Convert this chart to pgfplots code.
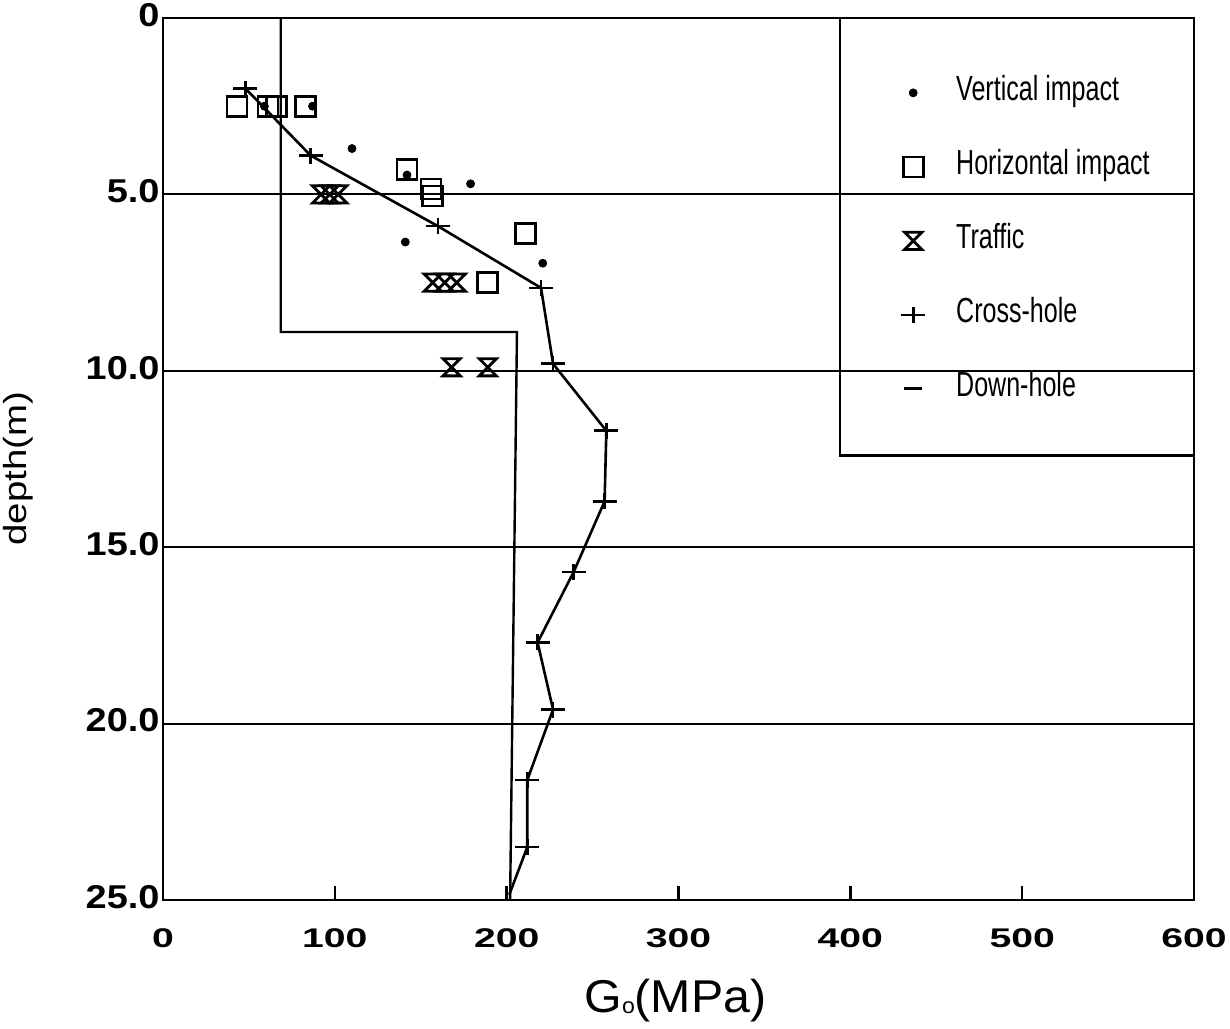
\documentclass[border=0pt]{standalone}
\usepackage{fontspec}
\setmainfont{Liberation Sans}
\usepackage{pgfplots}
\pgfplotsset{compat=1.18}
\usetikzlibrary{calc}
\newfontfamily\xtickfont{Liberation Sans}[FakeStretch=1.45]
\newfontfamily\ytickfont{Liberation Sans}[FakeStretch=1.15]
\newfontfamily\legfont{Liberation Sans}[FakeStretch=0.72]
\newfontfamily\ylabfont{Liberation Sans}[FakeStretch=1.2]
\newfontfamily\xlabfont{Liberation Sans}[FakeStretch=1.05]
\pgfdeclareplotmark{hplus}{%
  \pgfpathmoveto{\pgfqpoint{-1.2\pgfplotmarksize}{0pt}}%
  \pgfpathlineto{\pgfqpoint{1.2\pgfplotmarksize}{0pt}}%
  \pgfpathmoveto{\pgfqpoint{0pt}{-0.8\pgfplotmarksize}}%
  \pgfpathlineto{\pgfqpoint{0pt}{0.8\pgfplotmarksize}}%
  \pgfusepathqstroke}
\pgfdeclareplotmark{hourglass}{%
  \pgfpathmoveto{\pgfqpoint{-\pgfplotmarksize}{\pgfplotmarksize}}%
  \pgfpathlineto{\pgfqpoint{\pgfplotmarksize}{\pgfplotmarksize}}%
  \pgfpathlineto{\pgfqpoint{-\pgfplotmarksize}{-\pgfplotmarksize}}%
  \pgfpathlineto{\pgfqpoint{\pgfplotmarksize}{-\pgfplotmarksize}}%
  \pgfpathclose
  \pgfusepathqstroke}
\pgfdeclareplotmark{hbar}{%
  \pgfpathmoveto{\pgfqpoint{-\pgfplotmarksize}{0pt}}%
  \pgfpathlineto{\pgfqpoint{\pgfplotmarksize}{0pt}}%
  \pgfusepathqstroke}
\begin{document}
\begin{tikzpicture}
\begin{axis}[
  name=ax,
  scale only axis, width=515.5pt, height=441pt,
  xmin=0, xmax=600, ymin=0, ymax=25, y dir=reverse,
  axis line style={line width=1.3pt},
  xtick={0,100,...,600}, ytick={0,5,...,25},
  yticklabels={0,5.0,10.0,15.0,20.0,25.0},
  xtick pos=left, ytick pos=left, tick align=inside, major tick length=7pt,
  xtick style={line width=1.2pt, black}, ytick style={draw=none},
  ymajorgrids, major grid style={line width=1pt, black},
  /pgf/number format/assume math mode=true,
  xticklabel style={font=\xtickfont\bfseries\fontsize{13.5}{14}\selectfont, anchor=north, inner sep=0pt, yshift=-14pt},
  yticklabel style={font=\ytickfont\bfseries\fontsize{16.5}{18}\selectfont, anchor=east, inner sep=0pt, xshift=-1.5pt, yshift=1.5pt},
  xlabel={G\raisebox{-0.5pt}{\fontsize{11}{11}\selectfont o}(MPa)},
  xlabel style={font=\xlabfont\fontsize{23}{26}\selectfont, at={(axis description cs:0.497,-0.1145)}, anchor=center},
  ylabel={depth(m)},
  ylabel style={font=\ylabfont\fontsize{16}{18}\selectfont, at={(axis description cs:-0.1406,0.489)}, anchor=center},
  legend style={at={(axis cs:429.6,1.64)}, anchor=north west, draw=none, fill=none,
    inner sep=0pt, outer sep=0pt, row sep=20pt, column sep=15.5pt,
    font=\legfont\fontsize{17.4}{20}\selectfont,
    nodes={inner sep=0pt, text height=12.5pt, text depth=4.5pt}},
  legend cell align=left,
]
% Vertical impact
\addplot[only marks, mark=*, mark size=2pt, black] coordinates {
 (59,2.5) (87,2.5) (110,3.7) (142,4.45) (179,4.7) (141,6.35) (221,6.95)};
\addlegendentry{Vertical impact}
% Horizontal impact
\addplot[only marks, mark=square, mark size=5pt, line width=1.3pt, black] coordinates {
 (43,2.5) (61,2.5) (66,2.5) (83,2.5) (142,4.3) (156,4.85) (157,5.05) (211,6.1) (189,7.5)};
\addlegendentry{Horizontal impact}
% Traffic
\addplot[only marks, mark=hourglass, mark size=4.3pt, line width=1.4pt, black] coordinates {
 (92,5.0) (97,5.0) (102,5.0) (157,7.5) (164,7.5) (171,7.5) (168,9.9) (189,9.9)};
\addlegendentry{Traffic}
% Cross-hole marks
\addplot[only marks, mark=hplus, mark size=5pt, line width=1.3pt, black] coordinates {
 (48,2.0) (86,3.9) (160,5.9) (220,7.65) (227,9.8) (258,11.7) (257,13.7) (239,15.7)
 (218,17.7) (227,19.6) (212,21.6) (212,23.5)};
\addlegendentry{Cross-hole}
% Down-hole profile (legend shows a short bar)
\addlegendimage{only marks, mark=hbar, mark size=4.5pt, line width=1.4pt, black}
\addlegendentry{Down-hole}
\addplot[no marks, line width=1.2pt, black, forget plot]
 coordinates {(68.5,0) (68.5,8.9) (206,8.9) (202,25)};
% Cross-hole line
\addplot[no marks, line width=1.3pt, black, forget plot] coordinates {
 (48,2.0) (86,3.9) (160,5.9) (220,7.65) (227,9.8) (258,11.7) (257,13.7) (239,15.7)
 (218,17.7) (227,19.6) (212,21.6) (212,23.5) (201.5,24.85)};
\draw[line width=1.2pt] (axis cs:394,0) -- (axis cs:394,12.4) -- (axis cs:600,12.4);
\end{axis}
\pgfresetboundingbox
\path ($(ax.south west)+(-81.5pt,-64pt)$) rectangle ($(ax.north east)+(18pt,9pt)$);
\end{tikzpicture}
\end{document}
